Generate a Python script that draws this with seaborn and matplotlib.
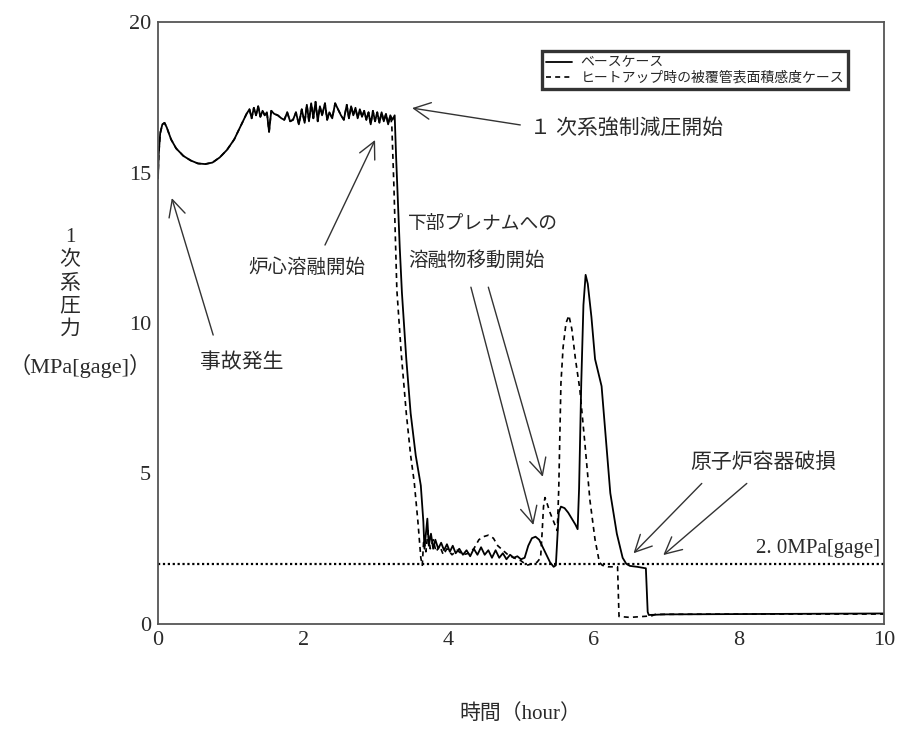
import numpy as np
import pandas as pd
import matplotlib
matplotlib.use('Agg')
import matplotlib.pyplot as plt
import seaborn as sns

# ---- data (time in hours, pressure in MPa[gage]) ----
# common part of both cases (start up to the depressurisation)
early_t = [0.00, 0.01, 0.03, 0.06, 0.09, 0.12, 0.18, 0.25, 0.35, 0.45, 0.55, 0.65,
           0.75, 0.85, 0.95, 1.05, 1.15, 1.22,
           1.26, 1.29, 1.32, 1.35, 1.38, 1.41, 1.44, 1.47, 1.50, 1.53, 1.56, 1.60,
           1.65, 1.70, 1.74, 1.78, 1.82, 1.86, 1.90, 1.94, 1.98, 2.02, 2.05, 2.08,
           2.11, 2.14, 2.17, 2.20, 2.23, 2.26, 2.30, 2.33, 2.36, 2.40, 2.44, 2.48,
           2.52, 2.56, 2.60, 2.63, 2.66, 2.69, 2.72, 2.75, 2.78, 2.81, 2.84, 2.87,
           2.90, 2.93, 2.96, 2.99, 3.02, 3.05, 3.08, 3.11, 3.14, 3.17, 3.20]
early_p = [14.8, 15.6, 16.3, 16.6, 16.65, 16.5, 16.1, 15.8, 15.55, 15.4, 15.3, 15.28,
           15.33, 15.5, 15.75, 16.1, 16.6, 16.95,
           17.1, 16.8, 17.15, 16.9, 17.2, 16.85, 17.05, 16.9, 17.0, 16.35, 17.05, 16.95,
           16.9, 16.8, 16.75, 17.0, 16.7, 16.75, 17.0, 16.6, 17.1, 16.65, 17.25, 16.7,
           17.3, 16.8, 17.35, 16.7, 17.2, 16.9, 17.3, 16.75, 17.0, 16.8, 17.3, 17.1,
           16.9, 16.75, 17.25, 16.8, 17.2, 16.9, 17.15, 16.8, 17.1, 16.85, 17.05, 16.75,
           17.0, 16.6, 17.05, 16.7, 17.0, 16.65, 17.0, 16.7, 16.95, 16.6, 16.9]

# ベースケース after 3.2 h
base_t = [3.23, 3.26, 3.28, 3.30, 3.33, 3.36, 3.42, 3.48, 3.55, 3.62, 3.655, 3.67,
          3.69, 3.71, 3.73, 3.76, 3.79, 3.82, 3.86, 3.90, 3.94, 3.98, 4.02, 4.06,
          4.10, 4.15, 4.20, 4.25, 4.30, 4.35, 4.40, 4.45, 4.50, 4.55, 4.60, 4.65,
          4.70, 4.75, 4.80, 4.85, 4.90, 4.95, 5.00, 5.05, 5.10, 5.15, 5.20, 5.25,
          5.30, 5.35, 5.40, 5.45, 5.48, 5.52, 5.55, 5.60, 5.65, 5.70, 5.75, 5.78,
          5.80, 5.83, 5.86, 5.89, 5.92, 5.97, 6.02, 6.11, 6.23, 6.32, 6.40, 6.45,
          6.50, 6.60, 6.72, 6.745, 6.76, 7.00, 8.00, 10.00]
base_p = [16.75, 16.9, 15.5, 14.3, 12.5, 11.0, 8.8, 7.0, 5.6, 4.6, 3.4, 2.5,
          3.0, 3.5, 2.6, 3.0, 2.5, 2.8, 2.5, 2.7, 2.45, 2.65, 2.4, 2.6,
          2.35, 2.5, 2.3, 2.45, 2.25, 2.5, 2.3, 2.55, 2.3, 2.45, 2.2, 2.45,
          2.2, 2.35, 2.15, 2.3, 2.2, 2.25, 2.15, 2.2, 2.6, 2.85, 2.9, 2.8,
          2.55, 2.3, 2.05, 1.9, 1.95, 3.7, 3.9, 3.85, 3.7, 3.5, 3.3, 3.15,
          4.5, 8.0, 10.6, 11.6, 11.3, 10.2, 8.8, 7.9, 4.35, 3.0, 2.2, 2.0,
          1.93, 1.9, 1.85, 0.4, 0.3, 0.32, 0.33, 0.35]

# ヒートアップ時の被覆管表面積感度ケース after 3.2 h
sens_t = [3.22, 3.25, 3.29, 3.35, 3.42, 3.48, 3.53, 3.58, 3.62, 3.64, 3.66, 3.69,
          3.72, 3.75, 3.79, 3.83, 3.88, 3.93, 3.98, 4.05, 4.12, 4.20, 4.28, 4.35,
          4.42, 4.48, 4.55, 4.62, 4.68, 4.75, 4.82, 4.90, 5.00, 5.08, 5.15, 5.22,
          5.27, 5.29, 5.31, 5.33, 5.36, 5.40, 5.45, 5.50, 5.52, 5.55, 5.58, 5.62,
          5.66, 5.70, 5.75, 5.81, 5.88, 5.95, 6.02, 6.08, 6.12, 6.20, 6.33, 6.35,
          6.50, 6.80, 6.85, 8.00, 10.00]
sens_p = [16.6, 14.5, 11.1, 9.0, 7.0, 5.6, 4.7, 3.4, 2.2, 1.95, 2.8, 2.4,
          3.1, 2.5, 2.8, 2.4, 2.6, 2.3, 2.5, 2.3, 2.45, 2.3, 2.35, 2.5,
          2.8, 2.9, 2.95, 2.85, 2.6, 2.45, 2.3, 2.2, 2.1, 1.95, 2.0, 2.05,
          2.2, 3.0, 3.9, 4.2, 4.0, 3.7, 3.4, 3.1, 4.5, 8.0, 9.2, 10.0,
          10.25, 9.8, 8.8, 7.8, 6.0, 4.1, 2.8, 2.05, 1.95, 1.9, 1.9, 0.25,
          0.22, 0.27, 0.32, 0.33, 0.33]

labels = ['ベースケース', 'ヒートアップ時の被覆管表面積感度ケース']
x_ticks = [0, 2, 4, 6, 8, 10]
y_ticks = [0, 5, 10, 15, 20]
limit_p = 2.0

df_base = pd.DataFrame({'t': early_t + base_t, 'p': early_p + base_p})
df_sens = pd.DataFrame({'t': early_t + sens_t, 'p': early_p + sens_p})

# ---- style ----
sns.set_style('white')
plt.rcParams['font.family'] = ['Noto Sans CJK JP', 'DejaVu Sans']
SERIF_CJK = ['Liberation Serif', 'Noto Sans CJK JP']
TXT = '#2a2a2a'

fig = plt.figure(figsize=(9.01, 7.29), dpi=100)
ax = fig.add_axes([158 / 901, 1 - 624 / 729, 726 / 901, 602 / 729])

sns.lineplot(data=df_sens, x='t', y='p', ax=ax, sort=False, estimator=None,
             color='black', lw=1.2, linestyle=(0, (3, 2.5)), label=labels[1])
sns.lineplot(data=df_base, x='t', y='p', ax=ax, sort=False, estimator=None,
             color='black', lw=1.3, label=labels[0])
ax.axhline(limit_p, color='black', lw=1.6, linestyle=(0, (1, 1.2)))

ax.set_xlim(0, 10)
ax.set_ylim(0, 20)
ax.set_xticks(x_ticks)
ax.set_yticks(y_ticks)
ax.tick_params(direction='in', length=6, width=1, colors='#444', labelsize=16,
               labelcolor=TXT, pad=5)
for lab in ax.get_xticklabels() + ax.get_yticklabels():
    lab.set_fontfamily('Liberation Serif')
for s in ax.spines.values():
    s.set_color('#555')
    s.set_linewidth(1.3)
ax.set_xlabel('')
ax.set_ylabel('')

# legend
handles, lbls = ax.get_legend_handles_labels()
order = [lbls.index(labels[0]), lbls.index(labels[1])]
leg = ax.legend([handles[i] for i in order], [lbls[i] for i in order],
                loc='upper right', bbox_to_anchor=(0.951, 0.951), fontsize=10,
                frameon=True, fancybox=False, handlelength=1.9, handletextpad=0.6,
                labelspacing=0.1, borderpad=0.3, borderaxespad=0)
leg.get_frame().set_edgecolor('black')
leg.get_frame().set_linewidth(2.4)

# annotations
fs = 14
ax.text(5.12, 16.45, '１ 次系強制減圧開始', fontsize=15, color=TXT, family=SERIF_CJK,
        va='center', ha='left')
ax.text(1.24, 11.83, '炉心溶融開始', fontsize=fs, color=TXT, family=SERIF_CJK,
        va='center', ha='left')
ax.text(0.58, 8.67, '事故発生', fontsize=15, color=TXT, family=SERIF_CJK,
        va='center', ha='left')
ax.text(3.44, 13.26, '下部プレナムへの', fontsize=13.5, color=TXT, family=SERIF_CJK,
        va='center', ha='left')
ax.text(3.44, 12.09, '溶融物移動開始', fontsize=fs, color=TXT, family=SERIF_CJK,
        va='center', ha='left')
ax.text(7.33, 5.35, '原子炉容器破損', fontsize=15, color=TXT, family=SERIF_CJK,
        va='center', ha='left')
ax.text(9.94, 2.5, '2. 0MPa[gage]', fontsize=15, color=TXT, family=SERIF_CJK,
        va='center', ha='right')

arrows = [((4.99, 16.58), (3.50, 17.14)),
          ((2.30, 12.59), (2.99, 16.08)),
          ((0.76, 9.60), (0.19, 14.15)),
          ((4.31, 11.19), (5.17, 3.29)),
          ((4.55, 11.19), (5.30, 4.89)),
          ((7.49, 4.67), (6.55, 2.35)),
          ((8.11, 4.67), (6.96, 2.29))]
for tail, head in arrows:
    ax.annotate('', xy=head, xytext=tail,
                arrowprops=dict(arrowstyle='->', color='#333', lw=1.0,
                                mutation_scale=30, shrinkA=0, shrinkB=0))

# axis titles
fig.text(70 / 901, 1 - 284 / 729, '1\n次\n系\n圧\n力', fontsize=15, color=TXT,
         family=SERIF_CJK, ha='center', va='center', linespacing=1.3)
fig.text(80 / 901, 1 - 366 / 729, '（MPa[gage]）', fontsize=16, color=TXT,
         family=SERIF_CJK, ha='center', va='center')
fig.text(520 / 901, 1 - 714 / 729, '時間（hour）', fontsize=15, color=TXT,
         family=SERIF_CJK, ha='center', va='center')

fig.savefig('out.png', dpi=100)
